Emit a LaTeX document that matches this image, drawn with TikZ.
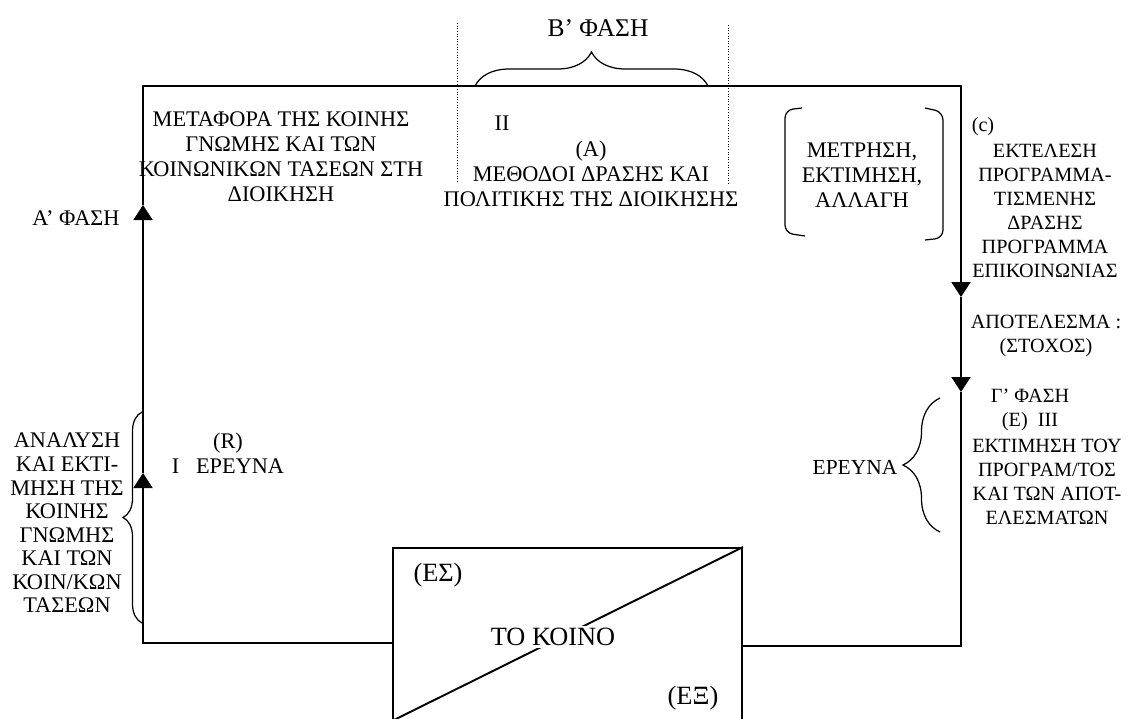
\documentclass[tikz,border=0pt]{standalone}
\usepackage{fontspec}
\setmainfont{Liberation Serif}
\usetikzlibrary{arrows.meta, decorations.pathreplacing, calc}

\begin{document}
\begin{tikzpicture}[x=0.02cm, y=-0.02cm,
  txt/.style={align=center, inner sep=0pt, font=\fontsize{11.5}{13.6}\selectfont},
  wide/.style={txt, font=\fontsize{12.7}{14.2}\selectfont},
  big/.style={inner sep=1pt, font=\fontsize{15}{17}\selectfont},
  loopline/.style={line width=1.1pt},
  flow/.style={loopline, -{Triangle[width=0.38cm, length=0.3cm]}},
  brc/.style={line width=0.7pt, decorate, decoration={brace, amplitude=#1}},
  dots/.style={densely dotted, line width=0.5pt}]
\useasboundingbox (0,0) rectangle (1133,718);

% corners of the loop
\coordinate (bl) at (143,643);
\coordinate (tl) at (143,86);
\coordinate (tr) at (961,86);
\coordinate (br) at (961,646);
\coordinate (up1) at (143,473);
\coordinate (up2) at (143,205);
\coordinate (dn1) at (961,297);
\coordinate (dn2) at (961,392);

% the public
\node[draw, loopline, minimum width=6.98cm, minimum height=3.44cm, inner sep=0pt] (koino) at (567.5,634) {};
\draw[loopline] (koino.south west) -- (koino.north east);
\node[big] (es) at (438,575) {(ΕΣ)};
\node[big, fill=white] (tokoino) at (553,637) {ΤΟ ΚΟΙΝΟ};
\node[big] (ex) at (693,698) {(ΕΞ)};

% loop
\draw[flow] (koino.west |- bl) -- (bl) -- (up1);
\draw[flow] (up1) -- (up2);
\draw[flow] (up2) -- (tl) -- (tr) -- (dn1);
\draw[flow] (dn1) -- (dn2);
\draw[loopline] (dn2) -- (br) -- (koino.east |- br);

% phase B
\node[txt, font=\fontsize{14.5}{16}\selectfont] (phaseB) at (598,28) {Β’ ΦΑΣΗ};
\draw[brc=0.68cm] (475,86) -- (708,86);
\draw[dots] (457,23) -- (457,183);
\draw[dots] (728,25) -- (728,185);
\node[wide] (metafora) at (281,157) {ΜΕΤΑΦΟΡΑ ΤΗΣ ΚΟΙΝΗΣ\\ΓΝΩΜΗΣ ΚΑΙ ΤΩΝ\\ΚΟΙΝΩΝΙΚΩΝ ΤΑΣΕΩΝ ΣΤΗ\\ΔΙΟΙΚΗΣΗ};
\node[wide] (ii) at (502,123) {II};
\node[wide] (methodoi) at (591,174) {(Α)\\ΜΕΘΟΔΟΙ ΔΡΑΣΗΣ ΚΑΙ\\ΠΟΛΙΤΙΚΗΣ ΤΗΣ ΔΙΟΙΚΗΣΗΣ};

% measurement in brackets
\node[wide] (metrisi) at (862,175) {ΜΕΤΡΗΣΗ,\\ΕΚΤΙΜΗΣΗ,\\ΑΛΛΑΓΗ};
\draw[line width=0.7pt, rounded corners=0.16cm] (802,108) -- (785,110) -- (785,233) -- (805,236);
\draw[line width=0.7pt, rounded corners=0.16cm] (925,108) -- (943,112) -- (943,238) -- (925,240);

% right side
\node[txt] (cmark) at (983,127) {(c)};
\node[txt] (ektelesi) at (1045,211) {ΕΚΤΕΛΕΣΗ\\ΠΡΟΓΡΑΜΜΑ-\\ΤΙΣΜΕΝΗΣ\\ΔΡΑΣΗΣ\\ΠΡΟΓΡΑΜΜΑ\\ΕΠΙΚΟΙΝΩΝΙΑΣ};
\node[txt] (apotelesma) at (1046,336) {ΑΠΟΤΕΛΕΣΜΑ :\\(ΣΤΟΧΟΣ)};
\node[txt] (phaseG) at (1030,410) {Γ’ ΦΑΣΗ\\(Ε)~~ΙΙΙ};
\node[txt] (ektimisi) at (1047,482) {ΕΚΤΙΜΗΣΗ ΤΟΥ\\ΠΡΟΓΡΑΜ/ΤΟΣ\\ΚΑΙ ΤΩΝ ΑΠΟΤ-\\ΕΛΕΣΜΑΤΩΝ};
\node[txt, font=\fontsize{12.2}{14}\selectfont] (erevnaR) at (855,467) {ΕΡΕΥΝΑ};
\draw[brc=0.74cm] (940,532) -- (940,398);

% left side
\node[wide] (phaseA) at (76,218) {Α’ ΦΑΣΗ};
\node[wide, font=\fontsize{12.7}{13.4}\selectfont] (analysi) at (67,523) {ΑΝΑΛΥΣΗ\\ΚΑΙ ΕΚΤΙ-\\ΜΗΣΗ ΤΗΣ\\ΚΟΙΝΗΣ\\ΓΝΩΜΗΣ\\ΚΑΙ ΤΩΝ\\ΚΟΙΝ/ΚΩΝ\\ΤΑΣΕΩΝ};
\draw[brc=0.38cm] (142,623) -- (142,412);
\node[wide] (erevnaL) at (228,453) {(R)\\I~~~ΕΡΕΥΝΑ};
\end{tikzpicture}
\end{document}
